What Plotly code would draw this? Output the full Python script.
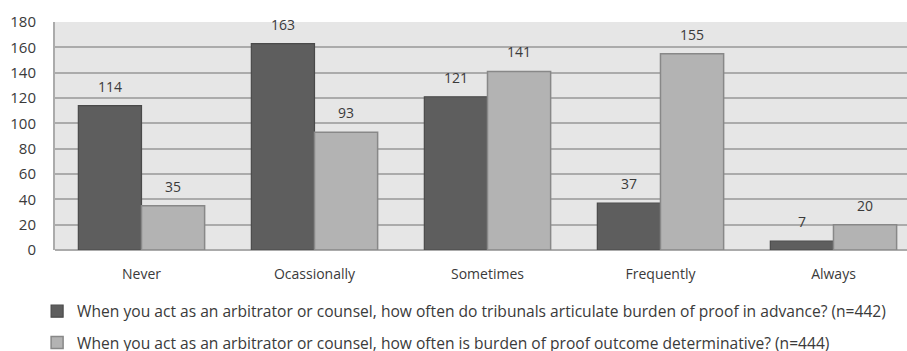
import plotly.graph_objects as go

categories = ["Never", "Ocassionally", "Sometimes", "Frequently", "Always"]
series1_name = "When you act as an arbitrator or counsel, how often do tribunals articulate burden of proof in advance? (n=442)"
series2_name = "When you act as an arbitrator or counsel, how often is burden of proof outcome determinative? (n=444)"
series1 = [114, 163, 121, 37, 7]
series2 = [35, 93, 141, 155, 20]
y_ticks = [0, 20, 40, 60, 80, 100, 120, 140, 160, 180]

FONT = "Open Sans"
TXT = "#3a3a3a"
BARGAP = 0.27

fig = go.Figure()
fig.add_trace(go.Bar(x=categories, y=series1, name=series1_name,
                     marker=dict(color="#5e5e5e", line=dict(color="#4a4a4a", width=1.2)),
                     legendgroup="a"))
fig.add_trace(go.Bar(x=categories, y=series2, name=series2_name,
                     marker=dict(color="#b3b3b3", line=dict(color="#888888", width=1.5)),
                     legendgroup="b"))

half = (1 - BARGAP) / 4
for i, (a, b) in enumerate(zip(series1, series2)):
    for off, v in ((-half, a), (half, b)):
        fig.add_annotation(x=i + off, y=v, xref="x", yref="y", text=str(v),
                           showarrow=False, yanchor="bottom", yshift=8,
                           font=dict(family=FONT, size=14, color=TXT))

fig.update_layout(
    width=907, height=351,
    margin=dict(l=55, r=0, t=22, b=101, autoexpand=False),
    paper_bgcolor="white", plot_bgcolor="#e6e6e6",
    barmode="group", bargap=BARGAP, bargroupgap=0,
    font=dict(family=FONT, size=14, color=TXT),
    showlegend=True,
    legend=dict(orientation="v", x=-0.021, xanchor="left", xref="paper",
                y=0.161, yanchor="top", yref="container",
                font=dict(family=FONT, size=15.6, color=TXT), itemwidth=30,
                tracegroupgap=8, bgcolor="rgba(0,0,0,0)"),
)
fig.update_xaxes(range=[-0.5, 4.425], showgrid=False, ticks="", ticklabelstandoff=14,
                 tickfont=dict(family=FONT, size=14, color=TXT), showline=False,
                 automargin=False)
fig.update_yaxes(range=[0, 180], tickvals=y_ticks, gridcolor="#ababab", gridwidth=2,
                 showline=True, linecolor="#ababab", linewidth=2, zeroline=True,
                 zerolinecolor="#ababab", zerolinewidth=2, ticks="", ticklabelstandoff=14,
                 tickfont=dict(family=FONT, size=15, color=TXT), automargin=False)

fig.write_html("out.html")
